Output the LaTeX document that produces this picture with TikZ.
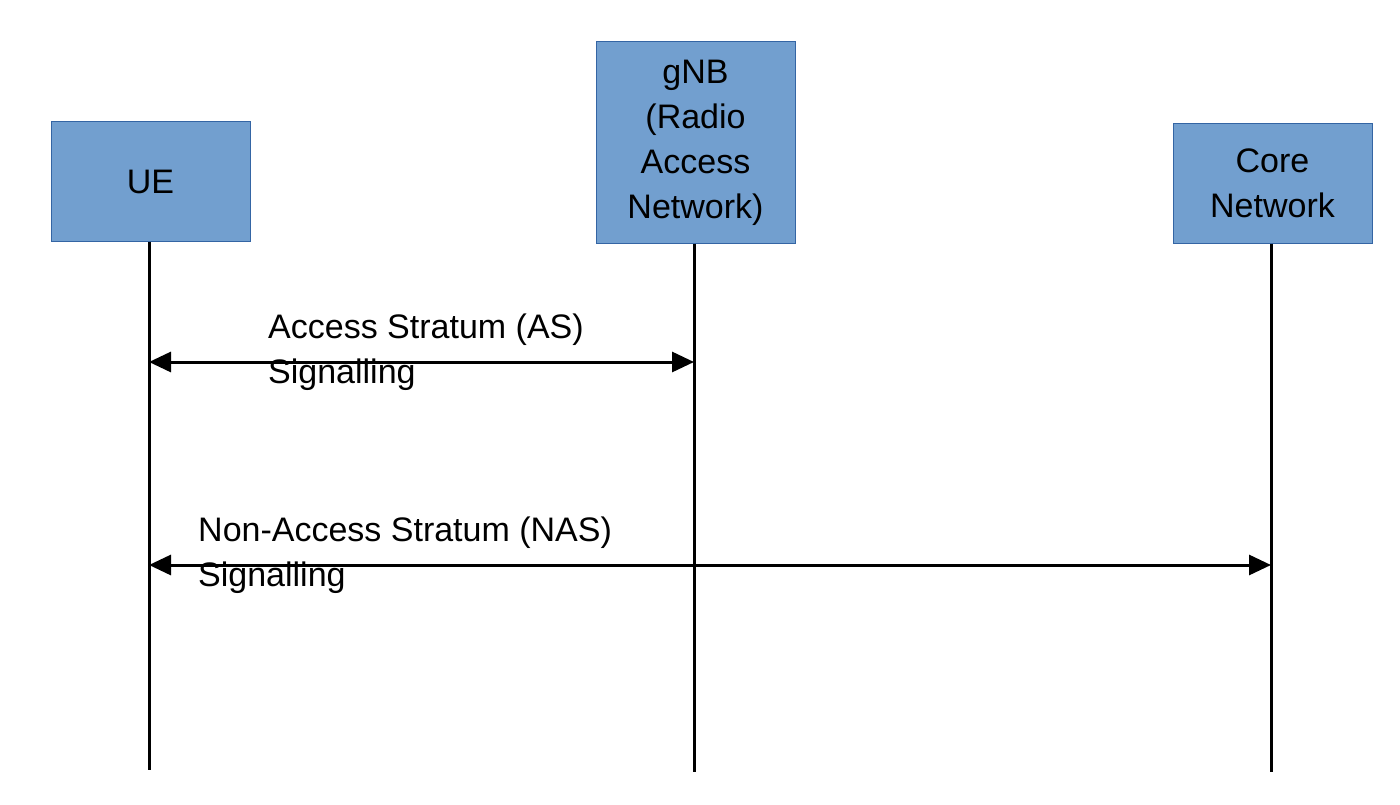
\documentclass[tikz,border=0pt]{standalone}
\usepackage{fontspec}
\setmainfont{Liberation Sans}
\usetikzlibrary{arrows.meta}
\definecolor{boxfill}{HTML}{729FCF}
\definecolor{boxline}{HTML}{3465A4}
\begin{document}
\begin{tikzpicture}[x=1pt,y=-1pt,
 box/.style={draw=boxline,fill=boxfill,line width=1pt,align=center,inner sep=0pt,font=\fontsize{34}{45}\selectfont},
 life/.style={line width=3pt},
 msg/.style={line width=3pt,{Triangle[length=22pt,width=20pt]}-{Triangle[length=22pt,width=20pt]}},
 lbl/.style={align=left,anchor=north west,inner sep=0pt,font=\fontsize{34}{45}\selectfont}]
\useasboundingbox (0,0) rectangle (1400,805);
\node[box,minimum width=199pt,minimum height=119pt] (ue) at (150.5,181.5) {UE};
\node[box,minimum width=199pt,minimum height=201pt] (gnb) at (695.5,142.5) {gNB\\(Radio\\Access\\Network)};
\node[box,minimum width=199pt,minimum height=119pt] (cn) at (1272.5,183.5) {Core\\Network};
\coordinate (ueb) at (149,770);
\coordinate (gnbb) at (694,772);
\coordinate (cnb) at (1271,772);
\draw[life] (ue.south -| ueb) -- (ueb);
\draw[life] (gnb.south -| gnbb) -- (gnbb);
\draw[life] (cn.south -| cnb) -- (cnb);
\coordinate (a1) at (149,362); \coordinate (a2) at (694,362);
\coordinate (n1) at (149,565); \coordinate (n2) at (1271,565);
\draw[msg] (a1) -- (a2);
\draw[msg] (n1) -- (n2);
\node[lbl] (asl) at (268,314) {Access Stratum (AS)\\Signalling};
\node[lbl] (nasl) at (198,517) {Non-Access Stratum (NAS)\\Signalling};
\end{tikzpicture}
\end{document}
